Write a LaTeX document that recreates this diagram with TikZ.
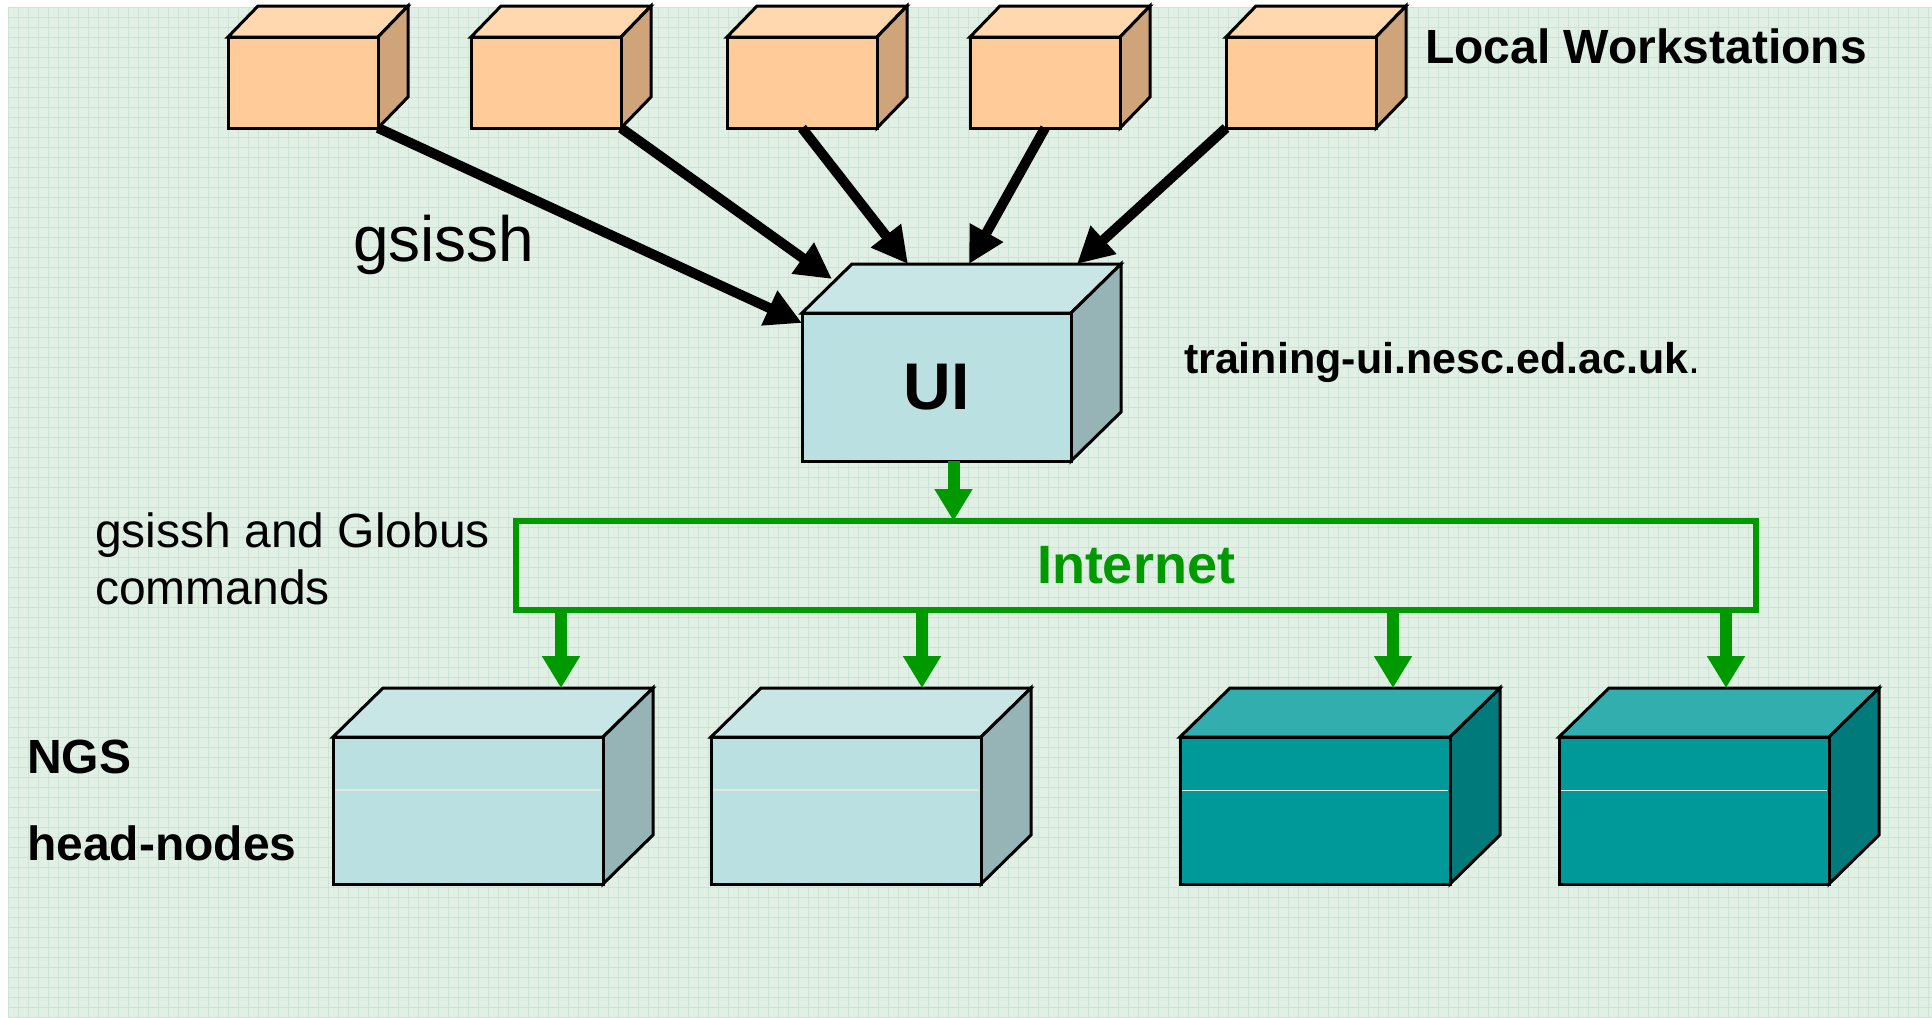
\documentclass[tikz,border=0pt]{standalone}
\usepackage{fontspec}
\setmainfont{Liberation Sans}
\usetikzlibrary{arrows.meta}
\definecolor{bgc}{RGB}{225,239,229}
\definecolor{gridc}{RGB}{204,228,214}
\definecolor{wsfront}{RGB}{255,204,153}
\definecolor{wstop}{RGB}{255,216,175}
\definecolor{wsside}{RGB}{207,164,122}
\definecolor{uifront}{RGB}{186,224,225}
\definecolor{uitop}{RGB}{201,230,230}
\definecolor{uiside}{RGB}{150,180,181}
\definecolor{tlfront}{RGB}{0,153,153}
\definecolor{tltop}{RGB}{51,174,174}
\definecolor{tlside}{RGB}{0,122,122}
\definecolor{netgreen}{RGB}{0,153,0}
\definecolor{paleA}{RGB}{224,234,218}
\definecolor{paleB}{RGB}{235,240,225}
\tikzset{
  boxline/.style={draw=black, line width=1.5pt, line join=miter},
  gridline/.style={draw=gridc, line width=0.5pt},
  blarrow/.style={draw=black, line width=5pt, -{Triangle[length=18pt,width=18pt]}},
  grarrow/.style={draw=netgreen, line width=6pt, -{Triangle[length=16pt,width=18pt]}},
  lbl/.style={anchor=base west, inner sep=0pt, outer sep=0pt},
}
% #1 name, #2 x, #3 y (front top-left), #4 w, #5 h, #6 dx, #7 dy, #8 colour prefix, #9 text
\newcommand\solidbox[9]{%
  \filldraw[boxline, fill=#8top] (#2,#3) -- ++(#6,-#7) -- ++(#4,0) -- ++(-#6,#7) -- cycle;
  \filldraw[boxline, fill=#8side] (#2+#4,#3) -- ++(#6,-#7) -- ++(0,#5) -- ++(-#6,#7) -- cycle;
  \node[boxline, fill=#8front, anchor=north west, minimum width=#4*0.5pt,
        minimum height=#5*0.5pt, inner sep=0pt, outer sep=0pt] (#1) at (#2,#3) {#9};
}
\begin{document}
\begin{tikzpicture}[x=0.5pt, y=-0.5pt]
\useasboundingbox (0,0) rectangle (1932,1017);
\fill[white] (0,0) rectangle (1932,1017);
\fill[bgc] (8,7) rectangle (1932,1017);
\foreach \gx in {8,18,...,1928} \draw[gridline] (\gx,7) -- (\gx,1017);
\foreach \gy in {7,17,...,1017} \draw[gridline] (8,\gy) -- (1932,\gy);

% workstations
\solidbox{ws1}{228}{37}{150}{91}{30}{31}{ws}{}
\solidbox{ws2}{471}{37}{150}{91}{30}{31}{ws}{}
\solidbox{ws3}{727}{37}{150}{91}{30}{31}{ws}{}
\solidbox{ws4}{970}{37}{150}{91}{30}{31}{ws}{}
\solidbox{ws5}{1226}{37}{150}{91}{30}{31}{ws}{}

% UI
\solidbox{ui}{802}{313}{269}{148}{50}{49}{ui}{\fontsize{33pt}{38pt}\selectfont\bfseries UI}

% NGS head nodes
\solidbox{ngsA}{333}{737}{270}{147}{50}{49}{ui}{}
\solidbox{ngsB}{711}{737}{270}{147}{50}{49}{ui}{}
\solidbox{ngsC}{1180}{737}{270}{147}{50}{49}{tl}{}
\solidbox{ngsD}{1559}{737}{270}{147}{50}{49}{tl}{}
\draw[paleA, line width=0.6pt] ([xshift=1pt,yshift=-26.5pt]ngsA.north west) -- ([xshift=-1pt,yshift=-26.5pt]ngsA.north east);
\draw[paleA, line width=0.6pt] ([xshift=1pt,yshift=-26.5pt]ngsB.north west) -- ([xshift=-1pt,yshift=-26.5pt]ngsB.north east);
\draw[paleB, line width=0.5pt] ([xshift=1pt,yshift=-26.5pt]ngsC.north west) -- ([xshift=-1pt,yshift=-26.5pt]ngsC.north east);
\draw[paleB, line width=0.5pt] ([xshift=1pt,yshift=-26.5pt]ngsD.north west) -- ([xshift=-1pt,yshift=-26.5pt]ngsD.north east);

% Internet
\node[draw=netgreen, line width=3pt, minimum width=1240*0.5pt, minimum height=89*0.5pt,
      anchor=north west, inner sep=0pt, outer sep=0pt, text=netgreen,
      font=\fontsize{27pt}{32pt}\selectfont\bfseries] (inet) at (516,521) {Internet};

% arrows workstations -> UI
\coordinate (uiT1) at (802,323);
\coordinate (uiT2) at (832,279);
\coordinate (uiT3) at (908,264);
\coordinate (uiT4) at (969,264);
\coordinate (uiT5) at (1077,264);
\draw[blarrow] (ws1.south east) -- (uiT1);
\draw[blarrow] (ws2.south east) -- (uiT2);
\draw[blarrow] (ws3.south) -- (uiT3);
\draw[blarrow] (ws4.south) -- (uiT4);
\draw[blarrow] (ws5.south west) -- (uiT5);

% green arrows
\coordinate (uiOut) at ([xshift=8.5pt]ui.south);
\draw[grarrow] (uiOut) -- (uiOut |- inet.north);
\coordinate (nA) at (561,688);
\coordinate (nB) at (922,688);
\coordinate (nC) at (1393,688);
\coordinate (nD) at (1726,688);
\draw[grarrow] (inet.south -| nA) -- (nA);
\draw[grarrow] (inet.south -| nB) -- (nB);
\draw[grarrow] (inet.south -| nC) -- (nC);
\draw[grarrow] (inet.south -| nD) -- (nD);

% labels
\node[lbl, font=\fontsize{24pt}{28pt}\selectfont\bfseries] (lblLocal) at (1425,63) {Local Workstations};
\node[lbl, font=\fontsize{21.5pt}{26pt}\selectfont\bfseries] (lblHost) at (1184,373) {training-ui.nesc.ed.ac.uk{\mdseries .}};
\node[lbl, font=\fontsize{32pt}{38pt}\selectfont] (lblGsissh) at (353,261) {gsissh};
\node[lbl, font=\fontsize{24pt}{28pt}\selectfont] (lblCmd1) at (95,547) {gsissh and Globus};
\node[lbl, font=\fontsize{24pt}{28pt}\selectfont] (lblCmd2) at (95,604) {commands};
\node[lbl, font=\fontsize{24pt}{28pt}\selectfont\bfseries] (lblNGS) at (27,773) {NGS};
\node[lbl, font=\fontsize{24pt}{28pt}\selectfont\bfseries] (lblHead) at (27,860) {head-nodes};
\end{tikzpicture}
\end{document}
